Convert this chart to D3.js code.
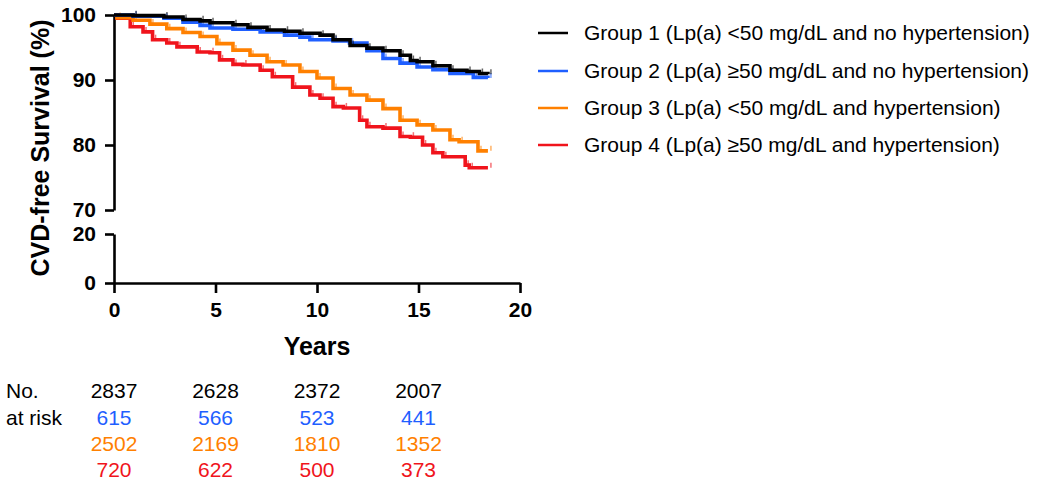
<!DOCTYPE html>
<html><head><meta charset="utf-8">
<script src="https://cdn.jsdelivr.net/npm/d3@7"></script>
<style>body{margin:0;background:#fff}svg{display:block;font-family:Arial,"Liberation Sans",Helvetica,sans-serif}</style>
</head><body><svg id="c" width="1050" height="483"></svg>
<script>
const groups = ["Group 1 (Lp(a) <50 mg/dL and no hypertension)","Group 2 (Lp(a) \u226550 mg/dL and no hypertension)","Group 3 (Lp(a) <50 mg/dL and hypertension)","Group 4 (Lp(a) \u226550 mg/dL and hypertension)"];
const colors = ["#000000","#1f5fff","#ff8000","#f0141c"];
const g1Time = [0,0.94,2.46,3.4,4.24,4.73,5.86,6.6,7.54,8.4,9.16,10.15,10.79,11.63,12.46,13.25,14.09,14.6,14.93,15.71,16.55,17.39,18.0,18.42];
const g1Surv = [100,99.9,99.7,99.3,99.1,98.8,98.5,98.1,97.7,97.5,97.2,96.9,96.2,95.3,94.9,94.5,93.8,93.0,92.8,92.2,91.5,91.3,91.0,90.9];
const g2Time = [0,0.94,2.46,3.4,4.24,4.73,5.86,7.2,8.4,9.16,9.65,10.79,11.6,12.46,13.25,14.09,14.93,15.71,16.55,17.7,18.42];
const g2Surv = [100,99.8,99.5,98.9,98.4,98.0,97.8,97.4,96.9,96.6,96.2,96.0,95.7,94.5,93.3,92.6,92.0,91.6,91.0,90.4,90.3];
const g3Time = [0,0.15,0.94,1.77,2.6,3.4,4.24,5.07,5.86,6.7,7.54,8.33,9.16,10.0,10.79,11.63,12.46,13.25,14.09,14.93,15.71,16.55,17.0,17.93,18.42];
const g3Surv = [100,99.6,99.2,98.6,97.9,97.3,96.7,95.6,94.6,93.8,92.8,92.3,91.3,90.3,88.7,87.7,86.9,85.6,83.8,83.1,82.3,80.8,80.5,79.1,79.1];
const g4Time = [0,0.15,0.8,1.43,1.9,2.6,3.1,4.1,4.73,5.2,5.86,6.35,7.2,7.8,8.8,9.65,10.15,10.79,11.3,12.1,12.46,13.25,14.09,14.6,15.2,15.71,16.2,17.3,17.5,18.42];
const g4Surv = [100,99.5,98.2,97.4,96.2,95.7,95.1,94.3,94.2,93.1,92.4,92.3,91.5,90.5,88.9,87.7,87.2,85.9,85.7,83.8,82.8,82.6,81.3,81.2,80.0,78.8,78.2,76.9,76.5,76.5];
const riskTimes = [0,5,10,15];
const risk1 = [2837,2628,2372,2007];
const risk2 = [615,566,523,441];
const risk3 = [2502,2169,1810,1352];
const risk4 = [720,622,500,373];
const xTicks = [0,5,10,15,20];
const yTopTicks = [70,80,90,100];
const yBotTicks = [0,20];

const svg = d3.select("#c");
const x = d3.scaleLinear().domain([0,20]).range([114,520]);
const yTop = d3.scaleLinear().domain([70,100]).range([210,15]);
const yBot = d3.scaleLinear().domain([0,20]).range([283,234]);

function styleAxis(g){
  g.selectAll("path,line").attr("stroke","#000").attr("stroke-width",2.6);
  g.selectAll("text").attr("font-weight","bold").attr("font-size",21).attr("fill","#000")
   .attr("font-family","Arial, 'Liberation Sans', sans-serif");
}
svg.append("g").attr("transform","translate(114,0)")
  .call(d3.axisLeft(yTop).tickValues(yTopTicks).tickSize(9).tickSizeOuter(0).tickPadding(9))
  .call(styleAxis);
svg.append("g").attr("transform","translate(114,0)")
  .call(d3.axisLeft(yBot).tickValues(yBotTicks).tickSize(9).tickSizeOuter(0).tickPadding(9))
  .call(styleAxis);
svg.append("g").attr("transform","translate(0,283)")
  .call(d3.axisBottom(x).tickValues(xTicks).tickSize(10).tickSizeOuter(0).tickPadding(9))
  .call(styleAxis);

svg.append("text").attr("x",317).attr("y",355).attr("text-anchor","middle")
  .attr("font-weight","bold").attr("font-size",25).text("Years");
svg.append("text").attr("transform","translate(49,148) rotate(-90)").attr("text-anchor","middle")
  .attr("font-weight","bold").attr("font-size",25).text("CVD-free Survival (%)");

const series = [
  {t:g1Time,s:g1Surv,c:colors[0]},
  {t:g2Time,s:g2Surv,c:colors[1]},
  {t:g3Time,s:g3Surv,c:colors[2]},
  {t:g4Time,s:g4Surv,c:colors[3]}
];
const line = d3.line().x(d=>x(d[0])).y(d=>yTop(d[1])).curve(d3.curveStepAfter);
[3,2,1,0].forEach(i=>{
  const sr = series[i];
  const pts = sr.t.map((t,j)=>[t,sr.s[j]]);
  svg.append("path").datum(pts).attr("fill","none").attr("stroke",sr.c)
    .attr("stroke-width",3.6).attr("d",line);
  svg.append("g").selectAll("line").data(pts.slice(1)).join("line")
    .attr("x1",d=>x(d[0])+3).attr("x2",d=>x(d[0])+3)
    .attr("y1",d=>yTop(d[1])).attr("y2",d=>yTop(d[1])-5)
    .attr("stroke",sr.c).attr("stroke-width",1.5).attr("opacity",0.6);
});

// legend
const leg = svg.append("g");
const legY = [33,71,108,145];
groups.forEach((g,i)=>{
  leg.append("line").attr("x1",538).attr("x2",568).attr("y1",legY[i]).attr("y2",legY[i])
    .attr("stroke",colors[i]).attr("stroke-width",2.5);
  leg.append("text").attr("x",584).attr("y",legY[i]+7).attr("font-size",21).attr("fill","#000").text(g);
});

// risk table
svg.append("text").attr("x",6).attr("y",398).attr("font-size",21).text("No.");
svg.append("text").attr("x",6).attr("y",425).attr("font-size",21).text("at risk");
const risks = [risk1,risk2,risk3,risk4];
const rowY = [398,425,451,477];
risks.forEach((r,i)=>{
  svg.append("g").selectAll("text").data(r).join("text")
    .attr("x",(d,j)=>x(riskTimes[j])).attr("y",rowY[i]).attr("text-anchor","middle")
    .attr("font-size",21).attr("fill",colors[i]).text(d=>d);
});
</script></body></html>
